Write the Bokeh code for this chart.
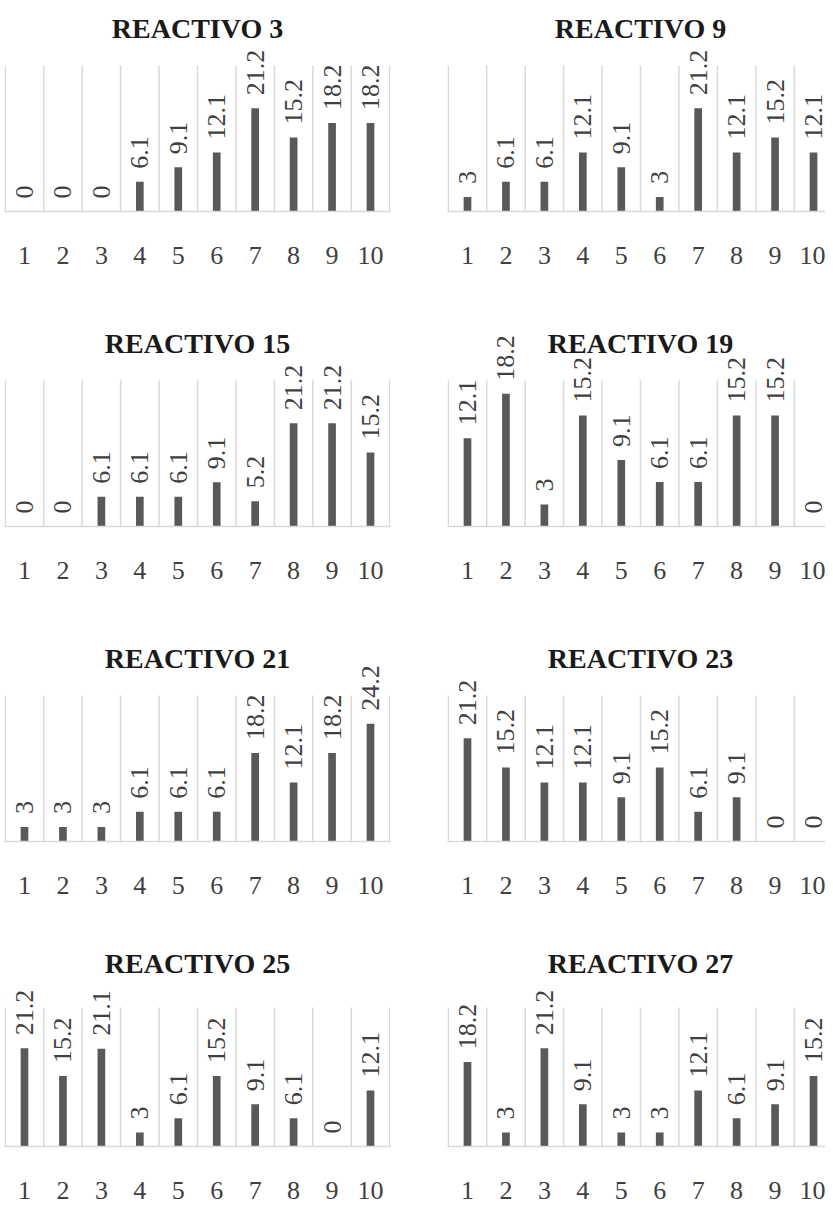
import math
from bokeh.plotting import figure
from bokeh.models import ColumnDataSource, LabelSet, Label, FixedTicker, Range1d
from bokeh.core.properties import value
from bokeh.layouts import column, row
from bokeh.embed import file_html
from bokeh.resources import INLINE

categories = [1, 2, 3, 4, 5, 6, 7, 8, 9, 10]

titles = ["REACTIVO 3", "REACTIVO 9", "REACTIVO 15", "REACTIVO 19",
          "REACTIVO 21", "REACTIVO 23", "REACTIVO 25", "REACTIVO 27"]

reactivo_3 = [0, 0, 0, 6.1, 9.1, 12.1, 21.2, 15.2, 18.2, 18.2]
reactivo_9 = [3, 6.1, 6.1, 12.1, 9.1, 3, 21.2, 12.1, 15.2, 12.1]
reactivo_15 = [0, 0, 6.1, 6.1, 6.1, 9.1, 5.2, 21.2, 21.2, 15.2]
reactivo_19 = [12.1, 18.2, 3, 15.2, 9.1, 6.1, 6.1, 15.2, 15.2, 0]
reactivo_21 = [3, 3, 3, 6.1, 6.1, 6.1, 18.2, 12.1, 18.2, 24.2]
reactivo_23 = [21.2, 15.2, 12.1, 12.1, 9.1, 15.2, 6.1, 9.1, 0, 0]
reactivo_25 = [21.2, 15.2, 21.1, 3, 6.1, 15.2, 9.1, 6.1, 0, 12.1]
reactivo_27 = [18.2, 3, 21.2, 9.1, 3, 3, 12.1, 6.1, 9.1, 15.2]

series = [reactivo_3, reactivo_9, reactivo_15, reactivo_19,
          reactivo_21, reactivo_23, reactivo_25, reactivo_27]

# axis maximum of each small chart (each chart autoscaled on its own)
axis_max = [30, 30, 30, 20, 30, 30, 30, 30]

FONT = "Liberation Serif"
BAR_COLOR = "#595959"
GRID_COLOR = "#d9d9d9"
TEXT_COLOR = "#404040"
GRID_PX = 146      # height of the gridded plot area
FRAME_PX = 211     # distance from figure top to the baseline
TITLE_PX = 183     # title baseline above the category axis


def make_panel(title, values, ymax, col, last):
    left = col == 0
    fig_w = 422 if left else 403
    border_l = 4 if left else 25
    border_r = 32 if left else 0
    frame_w = fig_w - border_l - border_r
    x0 = 0.48
    unit = 10.04 / 386.0
    x1 = 10.52 if left else x0 + frame_w * unit
    h = 256 if last else 315
    p = figure(width=fig_w, height=h,
               x_range=Range1d(x0, x1),
               y_range=Range1d(0, ymax * FRAME_PX / GRID_PX),
               output_backend="svg", toolbar_location=None,
               y_axis_location=None,
               min_border_left=border_l, min_border_right=border_r,
               min_border_top=0, min_border_bottom=h - FRAME_PX)
    p.outline_line_color = None
    p.background_fill_color = "white"
    p.border_fill_color = "white"
    p.xgrid.visible = False
    p.ygrid.visible = False

    seps = [c - 0.5 for c in categories] + [categories[-1] + 0.5]
    p.segment(x0=seps, y0=[0] * len(seps), x1=seps, y1=[ymax] * len(seps),
              line_color=GRID_COLOR, line_width=1.5)

    src = ColumnDataSource(dict(
        x=categories, v=values, label=[f"{v:g}" for v in values]))
    p.vbar(x="x", top="v", width=0.2, source=src,
           fill_color=BAR_COLOR, line_color=None)

    labels = LabelSet(x="x", y="v", text="label", source=src,
                      angle=math.pi / 2, text_align="left",
                      text_baseline="middle", y_offset=13,
                      text_font=value(FONT), text_font_size=value("26px"),
                      text_color=value(TEXT_COLOR))
    p.add_layout(labels)

    center = (categories[0] + categories[-1]) / 2
    t = Label(x=center, y=0, y_offset=TITLE_PX, text=title,
              text_align="center", text_baseline="alphabetic",
              text_font=FONT, text_font_style="bold",
              text_font_size="28px", text_color="#1a1a1a")
    p.add_layout(t)

    ax = p.xaxis[0]
    ax.ticker = FixedTicker(ticks=categories)
    ax.major_tick_line_color = None
    ax.minor_tick_line_color = None
    ax.axis_line_color = GRID_COLOR
    ax.axis_line_width = 1.5
    ax.major_label_text_font = FONT
    ax.major_label_text_font_size = "26px"
    ax.major_label_text_color = TEXT_COLOR
    ax.major_label_standoff = 29
    return p


rows = []
for r in range(4):
    figs = []
    for c in range(2):
        i = r * 2 + c
        figs.append(make_panel(titles[i], series[i], axis_max[i], c, r == 3))
    rows.append(row(*figs))

layout = column(*rows)
open("out.html", "w").write(file_html(layout, INLINE))
